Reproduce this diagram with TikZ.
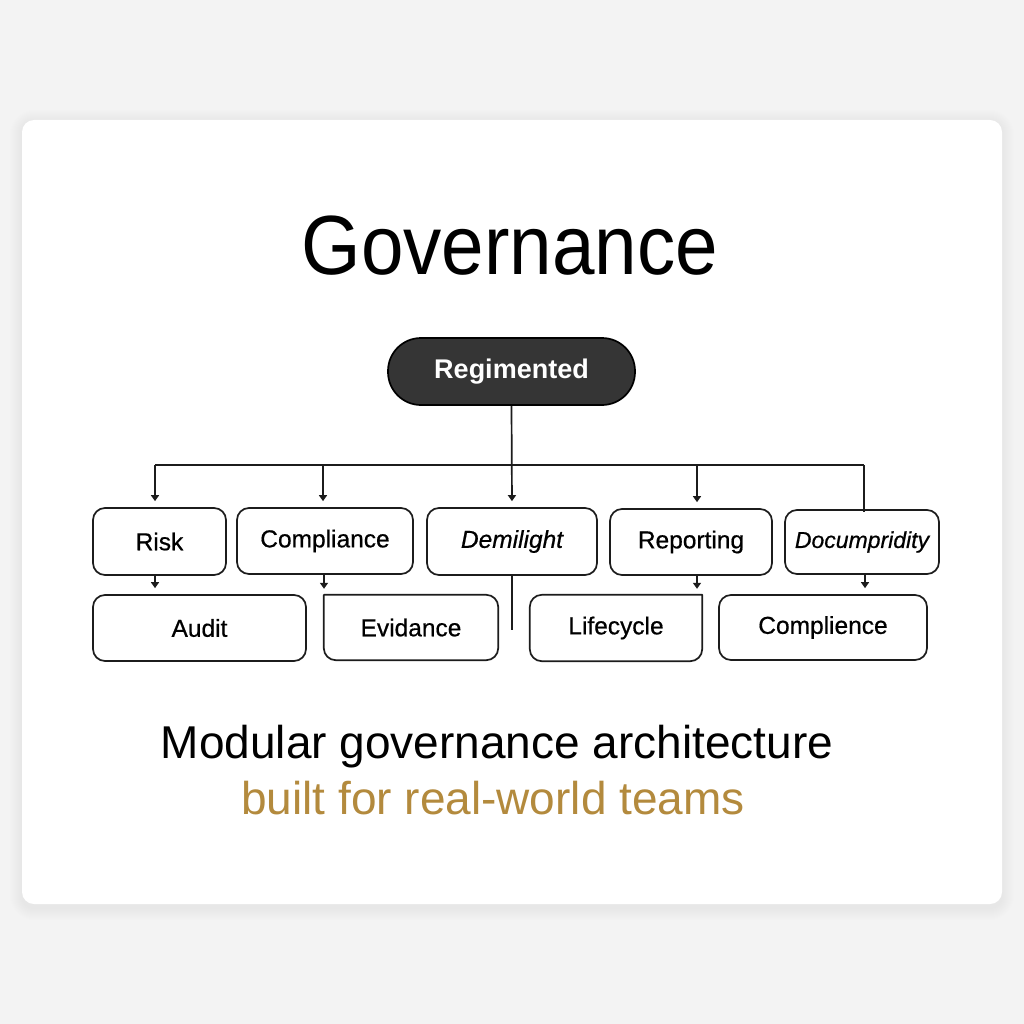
\documentclass[tikz,border=0pt]{standalone}
\usepackage{fontspec}
\usepackage{graphicx}
\setmainfont{Liberation Sans}
\newfontfamily\medfont{Liberation Sans}[FakeBold=0.6]
\usetikzlibrary{arrows.meta,calc}
\definecolor{bg}{HTML}{F3F3F3}
\definecolor{gold}{HTML}{B38A3D}
\definecolor{ink}{HTML}{1C1C1C}
\definecolor{pillfill}{HTML}{353535}
\begin{document}
\begin{tikzpicture}[x=1pt,y=-1pt,
  boxtext/.style={inner sep=0pt,text=black,font=\medfont\fontsize{24.5}{28}\selectfont},
  box/.style={boxtext,draw=ink,line width=1.7pt,rounded corners=12pt,fill=white},
  openbox/.style={boxtext,fill=white},
  outline/.style={draw=ink,line width=1.7pt,rounded corners=12pt,line cap=round},
  conn/.style={draw=ink,line width=1.7pt},
  arr/.style={conn,-{Triangle[length=6pt,width=8pt]},shorten >=6pt},
]
\useasboundingbox (0,0) rectangle (1024,1024);
\fill[bg] (0,0) rectangle (1024,1024);
% card shadow
\foreach \i in {1,...,12} {
  \fill[black,opacity=0.005,rounded corners=12pt+\i pt] (22-\i,122-\i) rectangle (1002+\i,908+\i);
}
\fill[white,rounded corners=12pt] (22,120) rectangle (1002,904);

% title
\node[inner sep=0pt,font=\fontsize{84}{90}\selectfont] (title) at (510,246) {\scalebox{0.91}[1]{Governance}};

% root
\node[draw=black,fill=pillfill,line width=1.7pt,rounded corners=33pt,minimum width=247pt,minimum height=67pt,inner sep=0pt,text=white,font=\bfseries\fontsize{27}{30}\selectfont] (reg) at (511.5,371.5) {Regimented};

% row 1
\node[box,minimum width=133pt,minimum height=67pt] (risk) at (159.5,541.5) {Risk};
\node[box,minimum width=176pt,minimum height=66pt] (comp) at (325,541) {Compliance};
\node[box,minimum width=170pt,minimum height=67pt] (dem) at (512,541.5) {\itshape Demilight};
\node[box,minimum width=154pt,minimum height=64pt,font=\medfont\itshape\fontsize{23}{26}\selectfont] (doc) at (862,542) {Documpridity};
\node[box,minimum width=162pt,minimum height=66pt] (rep) at (691,542) {Reporting};

% row 2
\node[box,minimum width=213pt,minimum height=66pt] (audit) at (199.5,628) {Audit};
\node[openbox,minimum width=174pt,minimum height=65pt] (ev) at (411,627.5) {Evidance};
\node[openbox,minimum width=172pt,minimum height=66pt] (lc) at (616,628) {Lifecycle};
\node[box,minimum width=208pt,minimum height=65pt] (cmp) at (823,627.5) {Complience};
\draw[outline] (ev.north west) -- (ev.north east) -- (ev.south east) -- (ev.south west) -- (ev.north west);
\draw[outline] (lc.north east) -- (lc.south east) -- (lc.south west) -- (lc.north west) -- (lc.north east);

% connectors
\coordinate (bus) at (512,465);
\coordinate (dRisk) at ([xshift=-4.5pt]risk.north);
\coordinate (dComp) at ([xshift=-2pt]comp.north);
\coordinate (dRep) at ([xshift=6pt]rep.north);
\coordinate (dDoc) at ([xshift=2pt]doc.north);
\draw[conn] (dRisk |- bus) -- (dDoc |- bus);
\draw[arr] (dRisk |- bus) -- (dRisk);
\draw[arr] (dComp |- bus) -- (dComp);
\draw[arr] (dRep |- bus) -- (dRep);
\draw[conn] (dDoc |- bus) -- ([yshift=-3pt]dDoc);
\draw[arr] (reg.south) -- (dem.north);

\coordinate (a1) at ([xshift=-4.5pt]risk.south);
\coordinate (a2) at ([xshift=-1pt]comp.south);
\coordinate (a3) at ([xshift=6pt]rep.south);
\coordinate (a4) at ([xshift=3pt]doc.south);
\draw[arr] (a1) -- (a1 |- audit.north);
\draw[arr] (a2) -- (a2 |- ev.north);
\draw[arr] (a3) -- (a3 |- lc.north);
\draw[arr] (a4) -- (a4 |- cmp.north);
\coordinate (demEnd) at (512,630);
\draw[conn] (dem.south) -- (demEnd);

% tagline
\node[inner sep=0pt,font=\fontsize{46}{50}\selectfont] (sub1) at (497,747) {Modular governance architecture};
\node[inner sep=0pt,font=\fontsize{46}{50}\selectfont,text=gold] (sub2) at (493,798) {built for real-world teams};
\end{tikzpicture}
\end{document}
